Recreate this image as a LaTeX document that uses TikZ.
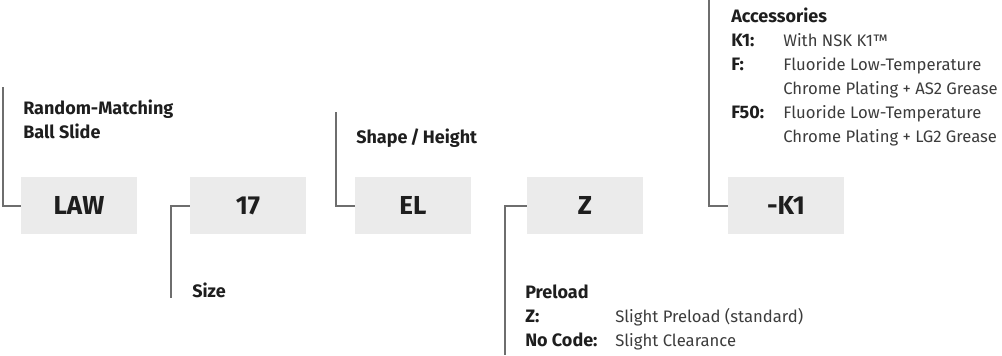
\documentclass[tikz,border=0pt]{standalone}
\usepackage{fontspec}
\setmainfont{Fira Sans}
\definecolor{boxgray}{HTML}{EBEBEB}
\definecolor{linegray}{HTML}{6E6E6E}
\definecolor{textdark}{HTML}{1E1E1E}
\definecolor{textsoft}{HTML}{3C3C3C}
\tikzset{
  codebox/.style={fill=boxgray, minimum width=87pt, minimum height=42.75pt,
    inner sep=0pt, font=\fontsize{19.5}{22}\selectfont\bfseries, text=textdark},
  conn/.style={draw=linegray, line width=1.5pt},
  legend/.style={anchor=base west, inner sep=0pt, text=textdark,
    font=\fontsize{12.5}{18}\selectfont}
}
\newcommand{\desc}[1]{\textcolor{textsoft}{#1}}
\newcommand{\hd}[1]{{\fontsize{13.5}{18}\selectfont\bfseries #1}}
\begin{document}
\begin{tikzpicture}[x=0.75pt,y=-0.75pt]
  \useasboundingbox (0,0) rectangle (1002,356);
  \node[codebox] (law)  at (79,205.5)  {LAW};
  \node[codebox] (size) at (248,205.5) {17};
  \node[codebox] (el)   at (413,205.5) {EL};
  \node[codebox] (zcode) at (585,205.5) {Z};
  \node[codebox] (kone) at (786,205.5) {-K1};
  \coordinate (lawend)  at (3,87);
  \coordinate (sizeend) at (171,298);
  \coordinate (elend)   at (336,112);
  \coordinate (zend)    at (505,355);
  \coordinate (koneend) at (709,0);
  \draw[conn] (law.west) -| (lawend);
  \draw[conn] (size.west) -| (sizeend);
  \draw[conn] (el.west) -| (elend);
  \draw[conn] (zcode.west) -| (zend);
  \draw[conn] (kone.west) -| (koneend);
  \node[legend] (lawtext) at (23,115) {%
    \begin{tabular}[t]{@{}l@{}}\hd{Random-Matching}\\\hd{Ball Slide}\end{tabular}};
  \node[legend] (sizetext) at (192,297) {\hd{Size}};
  \node[legend] (eltext) at (356,144) {\hd{Shape\,/\,Height}};
  \node[legend] (ztext) at (525,298) {%
    \begin{tabular}[t]{@{}p{67.5pt}@{}l@{}}
      \multicolumn{2}{@{}l@{}}{\hd{Preload}}\\
      \hd{Z:} & \desc{Slight Preload (standard)}\\
      \hd{No Code:} & \desc{Slight Clearance}
    \end{tabular}};
  \node[legend] (konetext) at (731,23) {%
    \begin{tabular}[t]{@{}p{39pt}@{}l@{}}
      \multicolumn{2}{@{}l@{}}{\hd{Accessories}}\\
      \hd{K1:} & \desc{With NSK K1™}\\
      \hd{F:} & \desc{Fluoride Low-Temperature}\\
       & \desc{Chrome Plating + AS2 Grease}\\
      \hd{F50:} & \desc{Fluoride Low-Temperature}\\
       & \desc{Chrome Plating + LG2 Grease}
    \end{tabular}};
\end{tikzpicture}
\end{document}
